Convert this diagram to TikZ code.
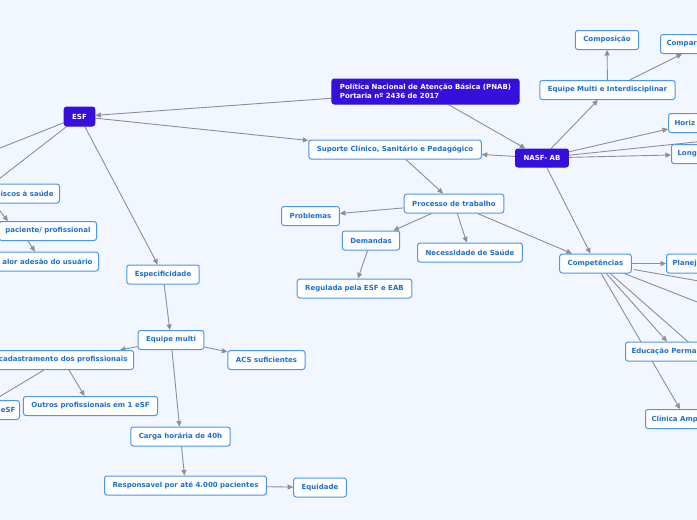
\documentclass[tikz,border=0pt]{standalone}
\usepackage{fontspec}
\setmainfont{DejaVu Sans}
\usetikzlibrary{arrows.meta,calc,backgrounds}
\definecolor{bgblue}{HTML}{F2F6FE}
\definecolor{boxline}{HTML}{4A97EC}
\definecolor{boxtext}{HTML}{1C6FD4}
\definecolor{darkfill}{HTML}{3510DD}
\definecolor{linkgray}{HTML}{8E8E96}

\tikzset{
  box/.style={draw=boxline, line width=1pt, fill=white, rounded corners=2.5pt,
    text=boxtext, font=\bfseries\fontsize{7}{9}\selectfont,
    minimum height=19pt, inner xsep=8pt},
  cutbox/.style={box, inner xsep=6pt},
  dark/.style={box, draw=darkfill, fill=darkfill, text=white},
  link/.style={draw=linkgray, line width=0.9pt, -{Triangle[length=5.5pt,width=5pt]}},
  plain/.style={draw=linkgray, line width=0.9pt},
}

\begin{document}
\begin{tikzpicture}[x=1pt,y=-1pt]
  \useasboundingbox (0,0) rectangle (697,520);
  % Knoten oben / Mitte
  \node[dark, align=left, minimum height=25pt] (pnab) at (425.5,91.5)
    {Política Nacional de Atenção Básica (PNAB)\\Portaria nº 2436 de 2017};
  \node[dark] (esf) at (79.5,116.5) {ESF};
  \node[dark, minimum height=18pt] (nasf) at (542,158) {NASF- AB};
  \node[box] (suporte) at (395,149.5) {Suporte Clínico, Sanitário e Pedagógico};
  \node[box] (processo) at (454,203.5) {Processo de trabalho};
  \node[box] (problemas) at (310.5,216) {Problemas};
  \node[box] (demandas) at (371,240.5) {Demandas};
  \node[box] (necessidade) at (470,252.5) {Necessidade de Saúde};
  \node[box] (regulada) at (354.5,288.5) {Regulada pela ESF e EAB};
  % NASF rechts (am Bildrand abgeschnitten)
  \node[box] (equipemulti) at (607.5,90) {Equipe Multi e Interdisciplinar};
  \node[box] (composicao) at (607,40) {Composição};
  \node[cutbox, anchor=west] (compar) at (660,44) {Compar};
  \node[cutbox, anchor=west] (horiz) at (668,123) {Horiz};
  \node[cutbox, anchor=west] (long) at (671,154) {Long};
  \node[box] (competencias) at (595.5,263.5) {Competências};
  \node[cutbox, anchor=west] (planej) at (666,263.5) {Planej};
  \node[cutbox, anchor=west] (educacao) at (625,351.5) {Educação Perma};
  \node[cutbox, anchor=west] (clinica) at (645,419) {Clínica Amp};
  % ESF links (am Bildrand abgeschnitten)
  \node[cutbox, anchor=east] (riscos) at (60,193.5) {iscos à saúde};
  \node[cutbox, anchor=east] (paciente) at (97,231) {paciente/ profissional};
  \node[cutbox, anchor=east] (adesao) at (99,261.5) {alor adesão do usuário};
  \node[box] (especificidade) at (163,274.5) {Especificidade};
  \node[box] (equipe) at (171,340) {Equipe multi};
  \node[box] (acs) at (266.5,360) {ACS suficientes};
  \node[cutbox, anchor=east] (cadastro) at (134,360) {cadastramento dos profissionais};
  \node[box] (outros) at (90.5,406) {Outros profissionais em 1 eSF};
  \node[box, anchor=east, inner xsep=4pt] (esfmin) at (20,410) {eSF};
  \node[box] (carga) at (180.5,436.5) {Carga horária de 40h};
  \node[box] (responsavel) at (185.5,485.5) {Responsavel por até 4.000 pacientes};
  \node[box] (equidade) at (320,487.5) {Equidade};
  % freie Enden ausserhalb des Bildes
  \coordinate (offesfa) at (-10,152);
  \coordinate (offesfb) at (-10,186);
  \coordinate (offnasf) at (710,140.5);
  \coordinate (offcompa) at (710,283);
  \coordinate (offcompb) at (710,307);
  \coordinate (offcompc) at (710,361);
  \coordinate (pacin) at (8,221);

  \begin{scope}[on background layer]
    \fill[bgblue] (-5,-5) rectangle (702,525);
    % Verbindungen
    \draw[link] (pnab) -- (esf);
    \draw[link] (pnab) -- (nasf);
    \draw[link] (nasf) -- (suporte);
    \draw[link] (esf) -- (suporte);
    \draw[link] (esf) -- (especificidade);
    \draw[plain] (esf) -- (offesfa);
    \draw[link] (esf) -- (offesfb);
    \draw[link] (suporte) -- (processo);
    \draw[link] (processo) -- (problemas);
    \draw[link] (processo) -- (demandas);
    \draw[link] (processo) -- (necessidade);
    \draw[link] (processo) -- (competencias);
    \draw[link] (demandas) -- (regulada);
    \draw[link] (nasf) -- (competencias);
    \draw[link] (nasf) -- (equipemulti);
    \draw[link] (nasf) -- ($(horiz.south west)+(0,-4)$);
    \draw[link] (nasf) -- ($(long.west)+(0,1)$);
    \draw[plain] (nasf) -- (offnasf);
    \draw[link] (equipemulti) -- (composicao);
    \draw[link] ($(equipemulti.north)+(22,0)$) -- ($(compar.south west)+(22,0)$);
    \draw[link] (competencias) -- (competencias -| planej.west);
    \draw[plain] ($(competencias.east)+(2,6)$) -- (offcompa);
    \draw[plain] ($(competencias.south west)+(65,0)$) -- (offcompb);
    \draw[plain] ($(competencias.south west)+(51,0)$) -- (offcompc);
    \draw[link] ($(competencias.south west)+(47,0)$) -- ($(educacao.north west)+(42,0)$);
    \draw[link] ($(competencias.south west)+(42,0)$) -- ($(clinica.north west)+(35,0)$);
    \draw[link] (riscos.south west) -- (pacin);
    \draw[link] ($(paciente.south east)+(-69,0)$) -- ($(adesao.north east)+(-64,0)$);
    \draw[link] (especificidade) -- (equipe);
    \draw[link] (equipe) -- ($(cadastro.north east)+(-14,0)$);
    \draw[link] (equipe) -- (acs);
    \draw[link] (equipe) -- (carga);
    \draw[link] (carga) -- (responsavel);
    \draw[link] (responsavel) -- (equidade);
    \draw[link] ($(cadastro.south east)+(-65,0)$) -- (outros);
    \draw[link] ($(cadastro.south east)+(-90,0)$) -- ($(esfmin.north east)+(-26,0)$);
  \end{scope}
\end{tikzpicture}
\end{document}
